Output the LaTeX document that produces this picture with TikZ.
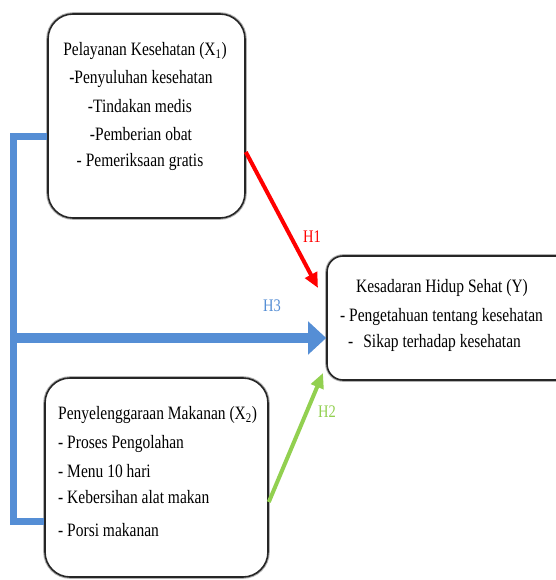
\documentclass[tikz,border=0pt]{standalone}
\usepackage{fontspec}
\usepackage{graphicx}
\setmainfont{Liberation Serif}
\usetikzlibrary{arrows.meta}
\definecolor{hblue}{RGB}{85,142,213}
\definecolor{hred}{RGB}{255,0,0}
\definecolor{hgreen}{RGB}{146,208,80}
\newcommand{\talltext}[1]{\scalebox{1}[1.22]{#1}}
\begin{document}
\begin{tikzpicture}[x=1pt,y=-1pt,
  box/.style={draw=black!85, line width=1.6pt, fill=white, inner sep=0pt},
  shade/.style={draw=black!30, line width=3.6pt},
  txt/.style={inner sep=0pt, font=\fontsize{15.5}{18}\selectfont},
  lbl/.style={inner sep=0pt, font=\fontsize{14.5}{17}\selectfont},
  blueline/.style={draw=hblue, line width=7pt, line join=miter},
  bluearrow/.style={draw=hblue, line width=10pt, -{Triangle[width=32pt,length=18pt]}},
  redarrow/.style={draw=hred, line width=4pt, -{Triangle[width=13pt,length=15pt]}},
  greenarrow/.style={draw=hgreen, line width=4pt, -{Triangle[width=13pt,length=15pt]}}
]
\useasboundingbox (0,0) rectangle (555,580);
\fill[white] (0,0) rectangle (555,580);

% boxes (gray halo under dark border)
\draw[shade, rounded corners=25pt] (48,14) rectangle (245,218);
\draw[shade, rounded corners=25pt] (45,378) rectangle (268,577);
\draw[shade, rounded corners=16pt] (327,256) rectangle (575,380);
\node[box, rounded corners=25pt, minimum width=197pt, minimum height=204pt] (x1) at (146.5,116) {};
\node[box, rounded corners=25pt, minimum width=223pt, minimum height=199pt] (x2) at (156.5,477.5) {};
\node[box, rounded corners=16pt, minimum width=248pt, minimum height=124pt] (y) at (451,318) {};

% texts of X1
\node[txt] (x1t) at (145,51) {\talltext{Pelayanan Kesehatan (X\textsubscript{1})}};
\node[txt] (x1a) at (141,79) {\talltext{-Penyuluhan kesehatan}};
\node[txt] (x1b) at (140,106) {\talltext{-Tindakan medis}};
\node[txt] (x1c) at (141,134) {\talltext{-Pemberian obat}};
\node[txt] (x1d) at (140,162) {\talltext{- Pemeriksaan gratis}};

% texts of X2
\node[txt, anchor=west] (x2t) at (58,415) {\talltext{Penyelenggaraan Makanan (X\textsubscript{2})}};
\node[txt, anchor=west] (x2a) at (58,444) {\talltext{- Proses Pengolahan}};
\node[txt, anchor=west] (x2b) at (58,471) {\talltext{- Menu 10 hari}};
\node[txt, anchor=west] (x2c) at (58,497) {\talltext{- Kebersihan alat makan}};
\node[txt, anchor=west] (x2d) at (58,530) {\talltext{- Porsi makanan}};

% texts of Y
\node[txt] (yt) at (442,288) {\talltext{Kesadaran Hidup Sehat (Y)}};
\node[txt, anchor=west] (ya) at (340,317) {\talltext{- Pengetahuan tentang kesehatan}};
\node[txt, anchor=west] (yb) at (348,343) {\talltext{-\hspace{10pt}Sikap terhadap kesehatan}};

% connectors
\coordinate (split) at (13.5,338);
\coordinate (h1end) at (318,288);
\coordinate (h2end) at (323,373);
\draw[blueline] (x1.west |- 0,137) -| (13.5,521) -- (x2.west |- 0,521);
\draw[bluearrow] (split) -- (y.west |- split);
\draw[redarrow] (x1.east |- 0,152) -- (h1end);
\draw[greenarrow] (x2.east |- 0,502) -- (h2end);

% labels
\node[lbl, text=hred] (h1) at (312,237) {\talltext{H1}};
\node[lbl, text=hblue] (h3) at (272,306) {\talltext{H3}};
\node[lbl, text=hgreen] (h2) at (327,412) {\talltext{H2}};
\end{tikzpicture}
\end{document}
